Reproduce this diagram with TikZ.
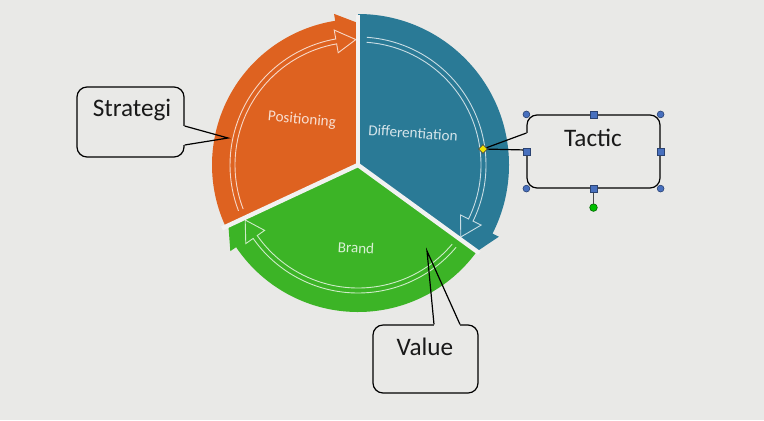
\documentclass[tikz,border=0pt]{standalone}
\usepackage{fontspec}
\setmainfont{Carlito}
\usetikzlibrary{shapes.geometric}
\definecolor{bgcol}{RGB}{233,233,231}
\definecolor{pieorange}{RGB}{222,98,32}
\definecolor{pieblue}{RGB}{42,122,150}
\definecolor{piegreen}{RGB}{60,180,38}
\definecolor{hblue}{RGB}{72,112,190}
\tikzset{
  callbox/.style={draw=black, line width=0.6pt, fill=bgcol, rounded corners=5pt, inner sep=0pt},
  calltext/.style={font=\fontsize{12.6}{14}\selectfont, text=black!90},
  callline/.style={draw=black, line width=0.6pt},
  pietext/.style={font=\fontsize{7.6}{9}\selectfont, text=white, text opacity=0.8},
  gap/.style={draw=bgcol!60!white, line width=2.2pt},
  ring/.style={draw=white, draw opacity=0.75, line width=0.45pt},
  sqhandle/.style={draw=hblue!60!black, fill=hblue, minimum size=3.6pt, inner sep=0pt, line width=0.3pt},
  rdhandle/.style={circle, draw=hblue!60!black, fill=hblue, minimum size=3.4pt, inner sep=0pt, line width=0.3pt},
  rothandle/.style={circle, draw=green!40!black, fill=green!75!black, minimum size=3.8pt, inner sep=0pt, line width=0.3pt},
  tiphandle/.style={diamond, draw=black!70, fill=yellow!85!olive, minimum size=4.5pt, inner sep=0pt, line width=0.3pt}
}
\begin{document}
\begin{tikzpicture}[x=0.5pt,y=0.5pt]
\useasboundingbox (0,0) rectangle (764,420);
\fill[bgcol] (0,0) rectangle (764,420);
% pie with circular arrows
\begin{scope}[shift={(358,255)}]
\foreach \s/\e/\r/\c in {205/90/146/pieorange, 90/-36/151/pieblue, -36/-155/147/piegreen}
  \fill[\c] (0,0) -- (\s:\r) arc[start angle=\s, end angle=\e+9, radius=\r] -- ({\e+9}:{\r+7}) -- (\e:{\r-4}) -- cycle;
\foreach \a in {90,205,-36} \draw[gap] (0,0) -- (\a:150);
\foreach \s/\e in {205/90, 90/-36, -36/-155}
  \draw[ring] ({\s-4}:123) arc[start angle=\s-4, end angle=\e+10, radius=123] -- ({\e+10}:114) -- ({\e+1}:125.5)
    -- ({\e+10}:137) -- ({\e+10}:128) arc[start angle=\e+10, end angle=\s-4, radius=128];
\end{scope}
\node[pietext, rotate=-5] (positioning) at (302,300) {Positioning};
\node[pietext, rotate=-4] (differentiation) at (413,287) {Differentiation};
\node[pietext, rotate=-3] (brand) at (356,172) {Brand};
% callouts
\coordinate (stip) at (228,282);
\coordinate (ttip) at (483,271);
\coordinate (vtip) at (427,169);
\node[callbox, minimum width=53.5pt, minimum height=35pt] (strategi) at (130.5,298) {};
\node[callbox, minimum width=66.5pt, minimum height=36.5pt] (tactic) at (593.5,268.5) {};
\node[callbox, minimum width=52.5pt, minimum height=34pt] (value) at (425.5,61) {};
\node[calltext] (strategitext) at (132,310) {Strategi};
\node[calltext] (tactictext) at (593,282) {Tactic};
\node[calltext] (valuetext) at (425,73) {Value};
\fill[bgcol] ([xshift=-1pt,yshift=-2pt]strategi.east) rectangle ([xshift=1pt,yshift=-11.5pt]strategi.east);
\draw[callline] ([yshift=-2pt]strategi.east) -- (stip) -- ([yshift=-11.5pt]strategi.east);
\fill[bgcol] ([xshift=-1pt,yshift=9.25pt]tactic.west) rectangle ([xshift=1pt,yshift=0.75pt]tactic.west);
\draw[callline] ([yshift=9.25pt]tactic.west) -- (ttip) -- ([yshift=0.75pt]tactic.west);
\fill[bgcol] ([xshift=4.25pt,yshift=1pt]value.north) rectangle ([xshift=17.25pt,yshift=-1pt]value.north);
\draw[callline] ([xshift=4.25pt]value.north) -- (vtip) -- ([xshift=17.25pt]value.north);
% selection handles
\node[rothandle] (hrot) at ([yshift=-9.5pt]tactic.south) {};
\draw[line width=0.4pt, black!70] (tactic.south) -- (hrot);
\foreach \a in {north,east,south,west} \node[sqhandle] (h\a) at (tactic.\a) {};
\foreach \a in {north west,north east,south east,south west} \node[rdhandle] (h\a) at (tactic.\a) {};
\node[tiphandle] (htip) at (ttip) {};
\end{tikzpicture}
\end{document}
